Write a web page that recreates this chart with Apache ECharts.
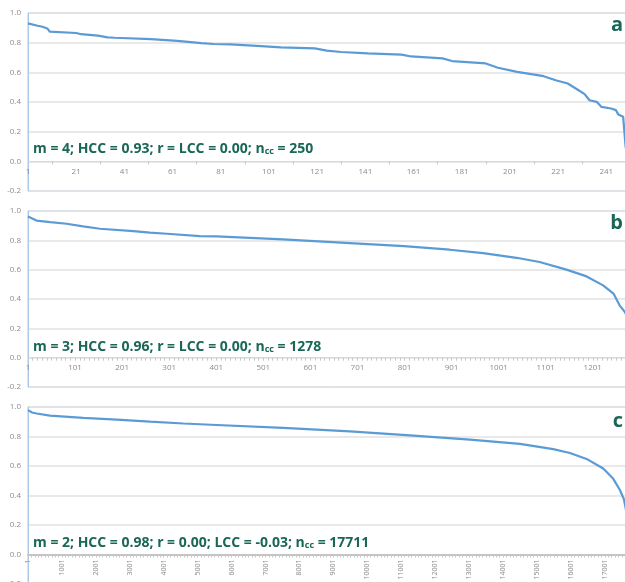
<!DOCTYPE html>
<html>
<head>
<meta charset="utf-8">
<script src="https://cdn.jsdelivr.net/npm/echarts@6/dist/echarts.min.js"></script>
<style>
  html, body { margin: 0; padding: 0; background: #ffffff; overflow: hidden; }
  #frame { width: 625px; height: 582px; overflow: hidden; position: relative; }
  #chart { width: 640px; height: 600px; position: absolute; left: 0; top: 0; }
</style>
</head>
<body>
<div id="frame"><div id="chart"></div></div>
<script>
// Clustering coefficient of each connected component, sorted in decreasing order.
// Ranks are 1-based positions in the sorted list.

// Panel a: m = 4, 250 components
const ranksA = [1, 5, 7, 9, 10, 21, 23, 30, 34, 37, 52, 63, 73, 78, 85, 96, 106, 120, 125, 131,
  142, 156, 160, 173, 177, 191, 196, 204, 215, 220, 225, 229, 232, 234, 237, 239, 243, 245,
  246, 248, 249, 250];
const valuesA = [0.930, 0.914, 0.907, 0.896, 0.875, 0.865, 0.857, 0.847, 0.836, 0.833, 0.824,
  0.812, 0.797, 0.791, 0.789, 0.779, 0.768, 0.761, 0.746, 0.737, 0.728, 0.719, 0.707, 0.694,
  0.676, 0.660, 0.631, 0.603, 0.574, 0.547, 0.525, 0.484, 0.453, 0.412, 0.401, 0.367, 0.356,
  0.345, 0.315, 0.300, 0.100, 0.020];

// Panel b: m = 3, 1278 components
const ranksB = [1, 5, 19, 48, 83, 118, 154, 225, 260, 296, 366, 402, 543, 685, 800, 897, 968,
  1039, 1088, 1145, 1188, 1223, 1245, 1258, 1269, 1278];
const valuesB = [0.963, 0.950, 0.935, 0.924, 0.913, 0.895, 0.879, 0.863, 0.852, 0.845, 0.829,
  0.827, 0.806, 0.781, 0.760, 0.736, 0.713, 0.681, 0.652, 0.600, 0.554, 0.493, 0.437, 0.357,
  0.312, 0.260];

// Panel c: m = 2, 17711 components
const ranksC = [1, 50, 120, 257, 649, 1631, 2614, 3596, 4578, 5561, 7523, 9488, 11256, 13024,
  14497, 15479, 15970, 16461, 16952, 17247, 17443, 17561, 17711];
const valuesC = [0.979, 0.970, 0.963, 0.956, 0.942, 0.926, 0.915, 0.901, 0.888, 0.878, 0.858,
  0.835, 0.808, 0.779, 0.750, 0.714, 0.688, 0.648, 0.583, 0.513, 0.437, 0.375, 0.200];

const componentCounts = [250, 1278, 17711];
const labelSteps = [20, 100, 1000];
const minorSplits = [2, 10, 10];
const panelLetters = ['a', 'b', 'c'];
const statTexts = [
  ['m = 4; HCC = 0.93; r = LCC = 0.00; n', 'cc', ' = 250'],
  ['m = 3; HCC = 0.96; r = LCC = 0.00; n', 'cc', ' = 1278'],
  ['m = 2; HCC = 0.98; r = 0.00; LCC = -0.03; n', 'cc', ' = 17711']
];
const yMin = -0.2, yMax = 1.0, yStep = 0.2;

const panels = [
  { ranks: ranksA, values: valuesA },
  { ranks: ranksB, values: valuesB },
  { ranks: ranksC, values: valuesC }
];

const TEAL = '#1a6757';
const FRAME = '#adc9ea';
const LABEL = '#8c8c8c';
const FONT = '"Open Sans", "Liberation Sans", sans-serif';

// Panels run slightly past the visible right and bottom edges of the page.
const gridBoxes = [
  { left: 28, top: 13, width: 600, height: 178 },
  { left: 28, top: 211, width: 601, height: 176 },
  { left: 28, top: 407, width: 601, height: 177 }
];
const statY = [152, 350, 546];
const letterY = [25, 223, 421];
const VISIBLE_W = 625;

const grids = gridBoxes.map(g => Object.assign({
  show: true, borderColor: FRAME, borderWidth: 1, backgroundColor: 'transparent',
  outerBoundsMode: 'none'
}, g));

// The category axis crosses the value axis at 0, one grid step above the bottom edge.
const zeroLift = gridBoxes.map(g => g.height * (0 - yMin) / (yMax - yMin));

const xAxes = panels.map((p, k) => ({
  type: 'value',
  gridIndex: k,
  position: 'bottom',
  offset: -zeroLift[k],
  min: 0,
  max: componentCounts[k] - 1,
  interval: labelSteps[k],
  axisLine: {
    show: true, onZero: false,
    lineStyle: { color: k === 2 ? '#c4c4c4' : '#d9d9d9', width: k === 2 ? 2 : 1 }
  },
  axisTick: { show: k !== 0, length: 3, lineStyle: { color: '#c8c8c8' } },
  minorTick: { show: true, splitNumber: minorSplits[k], length: 3, lineStyle: { color: '#c8c8c8' } },
  splitLine: { show: false },
  axisLabel: {
    formatter: v => String(Math.round(v) + 1),
    showMaxLabel: false,
    showMinLabel: true,
    hideOverlap: false,
    color: LABEL,
    fontFamily: FONT,
    fontSize: k === 2 ? 7 : 8,
    rotate: k === 2 ? 90 : 0,
    margin: k === 2 ? 5 : 6
  }
}));

const yAxes = panels.map((p, k) => ({
  type: 'value',
  gridIndex: k,
  min: yMin,
  max: yMax,
  interval: yStep,
  axisLine: { show: true, lineStyle: { color: FRAME, width: 1 } },
  axisTick: { show: false },
  splitLine: { show: true, lineStyle: { color: '#e2e2e2', width: 1.5 } },
  axisLabel: {
    formatter: v => v.toFixed(1),
    color: LABEL,
    fontFamily: FONT,
    fontSize: 8,
    margin: 7
  }
}));

const series = panels.map((p, k) => ({
  type: 'line',
  xAxisIndex: k,
  yAxisIndex: k,
  data: p.ranks.map((r, i) => [r - 1, p.values[i]]),
  showSymbol: false,
  symbol: 'none',
  lineStyle: { color: '#5b9bd5', width: 2.2 },
  animation: false
}));

const graphics = [];
statTexts.forEach((parts, k) => {
  graphics.push({
    type: 'text',
    left: 33,
    top: statY[k] - 10,
    z: 100,
    style: {
      text: '{m|' + parts[0] + '}{s|' + parts[1] + '}{m|' + parts[2] + '}',
      rich: {
        m: { fontFamily: FONT, fontWeight: 'bold', fontSize: 14, fill: TEAL, lineHeight: 22, verticalAlign: 'bottom' },
        s: { fontFamily: FONT, fontWeight: 'bold', fontSize: 9, fill: TEAL, lineHeight: 6, verticalAlign: 'bottom' }
      }
    }
  });
  graphics.push({
    type: 'text',
    x: VISIBLE_W - 2,
    y: letterY[k],
    z: 100,
    style: {
      text: panelLetters[k],
      fontFamily: FONT,
      fontWeight: 'bold',
      fontSize: 20,
      fill: TEAL,
      align: 'right',
      verticalAlign: 'middle'
    }
  });
});

const chart = echarts.init(document.getElementById('chart'), null, { renderer: 'canvas' });
chart.setOption({
  animation: false,
  backgroundColor: '#ffffff',
  grid: grids,
  xAxis: xAxes,
  yAxis: yAxes,
  series: series,
  graphic: graphics
});
</script>
</body>
</html>
